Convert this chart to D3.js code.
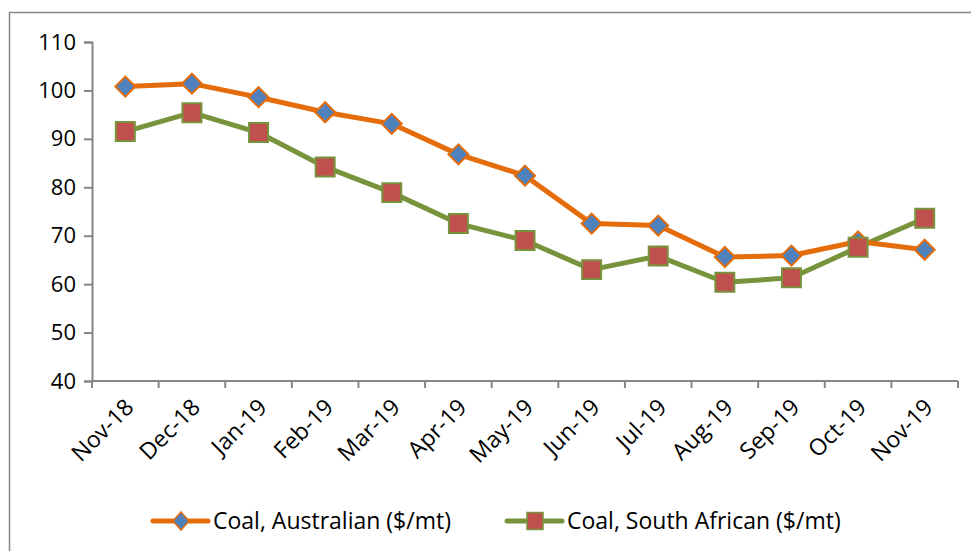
<!DOCTYPE html>
<html>
<head>
<meta charset="utf-8">
<script src="https://cdn.jsdelivr.net/npm/d3@7"></script>
<style>
  html, body { margin: 0; padding: 0; background: #fff; }
  svg { display: block; }
  text { font-family: "Open Sans", Lato, sans-serif; fill: #000; }
</style>
</head>
<body>
<svg id="chart" width="971" height="551"></svg>
<script>
// Monthly coal prices, $/mt
const months = ["Nov-18","Dec-18","Jan-19","Feb-19","Mar-19","Apr-19","May-19","Jun-19","Jul-19","Aug-19","Sep-19","Oct-19","Nov-19"];
const australian = [100.8, 101.4, 98.6, 95.5, 93.1, 86.8, 82.4, 72.5, 72.1, 65.6, 65.9, 68.8, 67.1];
const southAfrican = [91.5, 95.4, 91.3, 84.2, 78.9, 72.5, 69.0, 63.0, 65.8, 60.4, 61.3, 67.6, 73.6];
const yTicks = [40, 50, 60, 70, 80, 90, 100, 110];
const seriesNames = ["Coal, Australian ($/mt)", "Coal, South African ($/mt)"];

const svg = d3.select("#chart");
const axisColor = "#868686";
const orange = "#E46C0A", blue = "#4F81BD", green = "#77933C", red = "#C0504D";

// outer frame (extends past the right and bottom edges)
svg.append("rect")
  .attr("x", 9.5).attr("y", 12.5).attr("width", 1000).attr("height", 600)
  .attr("fill", "none").attr("stroke", axisColor).attr("stroke-width", 1.5);

const plot = { left: 92, right: 958, top: 42, bottom: 381 };

const x = d3.scaleBand().domain(months).range([plot.left, plot.right]);
const y = d3.scaleLinear().domain([40, 110]).range([plot.bottom, plot.top]);

// y axis
const yAxis = svg.append("g")
  .attr("transform", `translate(${plot.left},0)`)
  .call(d3.axisLeft(y).tickValues(yTicks).tickSize(8).tickPadding(8));
yAxis.selectAll("text").style("font-size", "22px").attr("fill", "#000");
yAxis.select(".domain").attr("stroke", axisColor).attr("stroke-width", 2);
yAxis.selectAll(".tick line").attr("stroke", axisColor).attr("stroke-width", 2);

// x axis with ticks on category boundaries
const xAxis = svg.append("g").attr("transform", `translate(0,${plot.bottom})`);
xAxis.append("line")
  .attr("x1", plot.left).attr("x2", plot.right)
  .attr("stroke", axisColor).attr("stroke-width", 2);
const boundaries = months.map(m => x(m)).concat([x(months[months.length - 1]) + x.bandwidth()]);
xAxis.selectAll("line.tick").data(boundaries).join("line")
  .attr("class", "tick")
  .attr("x1", d => d).attr("x2", d => d)
  .attr("y1", 0).attr("y2", 7)
  .attr("stroke", axisColor).attr("stroke-width", 2);
xAxis.selectAll("text").data(months).join("text")
  .attr("transform", d => `translate(${x(d) + x.bandwidth() / 2 + 4},${22}) rotate(-45)`)
  .attr("text-anchor", "end")
  .attr("dy", "0.35em")
  .style("font-size", "23px")
  .text(d => d);

const cx = d => x(d) + x.bandwidth() / 2;
const line = d3.line().x((d, i) => cx(months[i])).y(d => y(d));

// South African series
svg.append("path").datum(southAfrican)
  .attr("d", line).attr("fill", "none")
  .attr("stroke", green).attr("stroke-width", 5).attr("stroke-linejoin", "round");
// Australian series
svg.append("path").datum(australian)
  .attr("d", line).attr("fill", "none")
  .attr("stroke", orange).attr("stroke-width", 5).attr("stroke-linejoin", "round");

svg.append("g").selectAll("path").data(australian).join("path")
  .attr("d", d3.symbol().type(d3.symbolSquare).size(200))
  .attr("transform", (d, i) => `translate(${cx(months[i])},${y(d)}) rotate(45)`)
  .attr("fill", blue).attr("stroke", orange).attr("stroke-width", 2);

svg.append("g").selectAll("path").data(southAfrican).join("path")
  .attr("transform", (d, i) => `translate(${cx(months[i])},${y(d)})`)
  .attr("d", d3.symbol().type(d3.symbolSquare).size(360))
  .attr("fill", red).attr("stroke", green).attr("stroke-width", 2);

// legend
const legend = svg.append("g").attr("transform", "translate(0,521)");
const items = [
  { name: seriesNames[0], x0: 153, lineColor: orange, marker: "diamond" },
  { name: seriesNames[1], x0: 507, lineColor: green, marker: "square" }
];
items.forEach(it => {
  const g = legend.append("g");
  g.append("line").attr("x1", it.x0).attr("x2", it.x0 + 55)
    .attr("stroke", it.lineColor).attr("stroke-width", 5).attr("stroke-linecap", "round");
  if (it.marker === "diamond") {
    g.append("path")
      .attr("d", "M0,-9 L8,0 L0,9 L-8,0 Z")
      .attr("transform", `translate(${it.x0 + 28},0)`)
      .attr("fill", blue).attr("stroke", orange).attr("stroke-width", 1.5);
  } else {
    g.append("rect").attr("x", it.x0 + 20).attr("y", -8.5).attr("width", 16).attr("height", 17)
      .attr("fill", red).attr("stroke", green).attr("stroke-width", 1.5);
  }
  g.append("text").attr("x", it.x0 + 60).attr("dy", "0.35em")
    .style("font-size", "23px").text(it.name);
});
</script>
</body>
</html>
